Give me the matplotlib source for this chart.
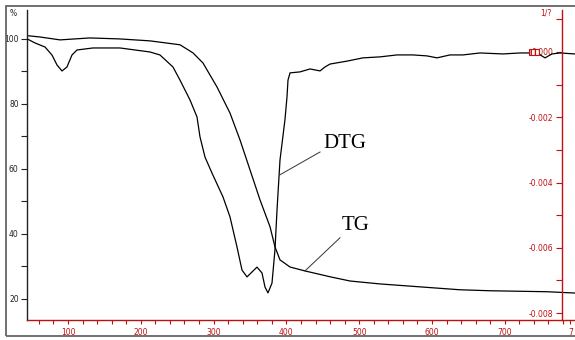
import matplotlib
matplotlib.use("Agg")
import matplotlib.pyplot as plt
from matplotlib.patches import Rectangle

# ---- data ----
tg_temp = [44, 61.5, 89, 130, 171, 212.6, 253.8, 271.7, 285.4, 304.7, 322.5, 336.3,
           350, 363.7, 377.5, 384.3, 391.2, 405, 425.5, 460, 487.4, 528.6, 583.5,
           638.5, 679.7, 758, 796]
tg_mass = [101.0, 100.6, 99.7, 100.3, 100.0, 99.4, 98.2, 95.7, 92.6, 85.2, 77.2, 68.9,
           59.7, 50.5, 42.2, 36.0, 32.0, 29.8, 28.6, 26.8, 25.5, 24.6, 23.7,
           22.8, 22.5, 22.2, 21.8]

dtg_temp = [44, 54.7, 68.4, 78, 84.9, 91.8, 98.6, 105.5, 112.4, 134.3, 171.4, 212.6,
            226.4, 244.2, 253.8, 267.6, 277.2, 281.3, 288.2, 297.8, 312.9, 322.5,
            332.1, 339, 345.9, 352.7, 359.6, 366.5, 370.6, 374.7, 380.2, 384.3,
            387.1, 391.2, 398, 400.8, 402.2, 405, 418.7, 432.4, 446.2, 453, 459.9,
            483.2, 505.2, 528.6, 551.9, 573.9, 593.1, 606.9, 624.7, 642.6, 665.9,
            697.5, 720.9, 744.2, 755.2, 764.8, 775.8, 796]
dtg_rate = [0.00040, 0.000276, 0.000153, -0.000092, -0.000398, -0.000582, -0.000459,
            -0.000092, 0.000061, 0.000123, 0.000123, 0.0, -0.000092, -0.00046,
            -0.00086, -0.00147, -0.00199, -0.00260, -0.00322, -0.00371, -0.00444,
            -0.00505, -0.00597, -0.00668, -0.00689, -0.00674, -0.00659, -0.00677,
            -0.00720, -0.00738, -0.00708, -0.00606, -0.00484, -0.00331, -0.00208,
            -0.00138, -0.00086, -0.00064, -0.00061, -0.00052, -0.00058, -0.00046,
            -0.00037, -0.00028, -0.00018, -0.00015, -0.00009, -0.00009, -0.00012,
            -0.00018, -0.00009, -0.00009, -0.00003, -0.00006, -0.00003, -0.00003,
            -0.00018, -0.00006, -0.00003, -0.00006]

x_ticks = [100, 200, 300, 400, 500, 600, 700, 790]
x_labels = ["100", "200", "300", "400", "500", "600", "700", "7"]
left_ticks = [20, 40, 60, 80, 100]
left_labels = ["20", "40", "60", "80", "100"]
right_ticks = [0.0, -0.002, -0.004, -0.006, -0.008]
right_labels = ["0.000", "-0.002", "-0.004", "-0.006", "-0.008"]

RED = "#c01010"

fig = plt.figure(figsize=(5.75, 3.4), dpi=100)
fig.patch.set_facecolor("white")

# outer frame
fig.patches.append(Rectangle((6 / 575, 4 / 340), 1.2, 330 / 340, transform=fig.transFigure,
                             fill=False, edgecolor="#666666", linewidth=1.3))

ax = fig.add_axes([27 / 575, 20 / 340, 548 / 575, 310 / 340])
ax.set_facecolor("none")
ax.set_xlim(43.7, 796.4)
ax.set_ylim(13.5, 108.9)

for s in ["top", "right"]:
    ax.spines[s].set_visible(False)
ax.spines["left"].set_color("#222222")
ax.spines["left"].set_linewidth(1.0)
ax.spines["bottom"].set_color(RED)
ax.spines["bottom"].set_linewidth(1.0)

ax.plot(tg_temp, tg_mass, color="black", linewidth=0.9)

ax.set_xticks(x_ticks)
ax.set_xticklabels(x_labels)
ax.set_xticks(list(range(60, 800, 20)), minor=True)
ax.tick_params(axis="x", which="both", colors=RED, direction="out", length=3,
               width=0.8, labelsize=5.5, pad=3, labelcolor=RED)
ax.set_yticks(left_ticks)
ax.set_yticklabels(left_labels)
ax.set_yticks([30, 50, 70, 90], minor=True)
ax.tick_params(axis="y", which="both", colors="#222222", direction="out", length=4,
               width=0.8, labelsize=5.5, pad=2)

# secondary (DTG) axis
ax2 = ax.twinx()
ax2.set_ylim(-0.00821, 0.001286)
for s in ["top", "left", "bottom"]:
    ax2.spines[s].set_visible(False)
ax2.spines["right"].set_position(("data", 778))
ax2.spines["right"].set_color(RED)
ax2.spines["right"].set_linewidth(1.0)
ax2.plot(dtg_temp, dtg_rate, color="black", linewidth=0.9)

ax2.set_yticks(right_ticks)
ax2.set_yticklabels(right_labels)
ax2.set_yticks([0.001, -0.001, -0.003, -0.005, -0.007], minor=True)
ax2.tick_params(axis="y", which="both", colors=RED, direction="in", length=4,
                width=0.8, labelsize=5.5, pad=-6, labelcolor=RED)
for lab in ax2.get_yticklabels():
    lab.set_horizontalalignment("right")

# cursor marker near the end of DTG
ax2.add_patch(Rectangle((733, -0.00008), 14, 0.00016, facecolor="white",
                        edgecolor=RED, hatch="||||", linewidth=0.8, zorder=5))

# annotations
ax.text(480.5, 67.7, "DTG", family="Liberation Serif", fontsize=15,
        ha="center", va="center")
ax.plot([391.2, 446.2], [58.2, 65.2], color="#333333", linewidth=0.7)
ax.text(495.6, 42.5, "TG", family="Liberation Serif", fontsize=15,
        ha="center", va="center")
ax.plot([425.5, 473.6], [28.6, 38.8], color="#333333", linewidth=0.7)

# axis unit labels
fig.text(13 / 575, 1 - 13 / 340, "%", fontsize=5.5, ha="center", va="center",
         color="#222222")
fig.text(546 / 575, 1 - 13 / 340, "1/?", fontsize=5.5, ha="center", va="center",
         color=RED)

fig.savefig("out.png", dpi=100, facecolor="white")
